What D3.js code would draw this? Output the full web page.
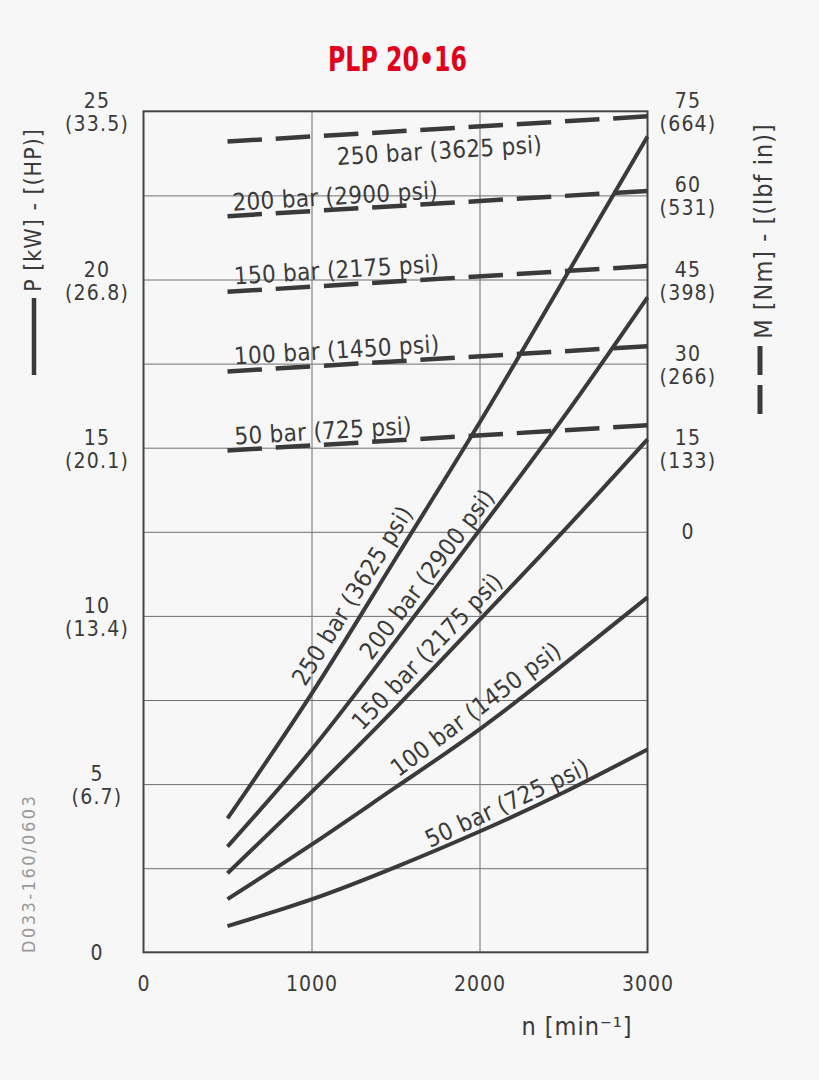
<!DOCTYPE html>
<html>
<head>
<meta charset="utf-8">
<script src="https://cdn.jsdelivr.net/npm/d3@7"></script>
<style>
  body { margin: 0; background: #f7f7f7; }
  svg { display: block; }
</style>
</head>
<body>
<script>
const speeds = [500, 1000, 1500, 2000, 2500, 3000];
const pressures = [50, 100, 150, 200, 250];
const psi = [725, 1450, 2175, 2900, 3625];
const power50 = [0.78, 1.57, 2.53, 3.59, 4.75, 6.03];
const power100 = [1.58, 3.2, 4.9, 6.63, 8.55, 10.55];
const power150 = [2.35, 4.76, 7.26, 9.88, 12.52, 15.25];
const power200 = [3.14, 6.02, 9.25, 12.55, 15.9, 19.47];
const power250 = [3.98, 7.68, 11.7, 15.74, 19.98, 24.25];
const torqueSpeeds = [500, 3000];
const torque50 = [14.5, 19.0];
const torque100 = [28.6, 33.1];
const torque150 = [42.8, 47.4];
const torque200 = [56.3, 60.8];
const torque250 = [69.6, 74.1];
const powerTicks = [0, 5, 10, 15, 20, 25];
const hpTicks = ['', '6.7', '13.4', '20.1', '26.8', '33.5'];
const torqueTicks = [0, 15, 30, 45, 60, 75];
const lbfTicks = ['', '133', '266', '398', '531', '664'];
const speedTicks = [0, 1000, 2000, 3000];

const powers = [power50, power100, power150, power200, power250];
const torques = [torque50, torque100, torque150, torque200, torque250];

// posizione etichette lungo le curve: [giri, scostamento]
const powerLabelPos = [[2200, -6], [2043, -10], [1758, -8], [1760, -7], [1330, -9]];
const torqueLabelPos = [[1074, -5.5], [1155, -6.5], [1155, -7], [1146, -5], [1753, 30]];

const FONT = '"DejaVu Sans Condensed", "DejaVu Sans", sans-serif';
const INK = '#3a3a3a';

const svg = d3.select('body').append('svg')
    .attr('width', 819)
    .attr('height', 1080)
    .style('font-family', FONT)
    .style('font-stretch', 'condensed');

svg.append('rect').attr('width', 819).attr('height', 1080).attr('fill', '#f7f7f7');

const x = d3.scaleLinear().domain([0, 3000]).range([143.5, 647.5]);
const y = d3.scaleLinear().domain([0, 25]).range([952.3, 111.3]);
const yM = d3.scaleLinear().domain([-75, 75]).range([952.3, 111.3]);

//titolo
svg.append('text')
    .attr('x', 397.5)
    .attr('y', 71)
    .attr('text-anchor', 'middle')
    .attr('fill', '#e2001a')
    .style('font-family', '"Liberation Sans Narrow", "DejaVu Sans Condensed", sans-serif')
    .style('font-weight', 'bold')
    .style('font-size', '33px')
    .attr('textLength', 139)
    .attr('lengthAdjust', 'spacingAndGlyphs')
    .text('PLP 20•16');

//griglia
svg.append('g')
    .attr('transform', `translate(${x(0)},0)`)
    .call(d3.axisLeft(y).tickValues(d3.range(2.5, 25, 2.5)).tickSize(-(x(3000) - x(0))).tickFormat(''))
    .call(g => g.select('.domain').remove())
    .call(g => g.selectAll('line').attr('stroke', '#707070').attr('stroke-width', 1));
svg.append('g')
    .attr('transform', `translate(0,${y(0)})`)
    .call(d3.axisBottom(x).tickValues([1000, 2000]).tickSize(-(y(0) - y(25))).tickFormat(''))
    .call(g => g.select('.domain').remove())
    .call(g => g.selectAll('line').attr('stroke', '#707070').attr('stroke-width', 1));

svg.append('rect')
    .attr('x', x(0)).attr('y', y(25))
    .attr('width', x(3000) - x(0)).attr('height', y(0) - y(25))
    .attr('fill', 'none').attr('stroke', '#444').attr('stroke-width', 2);

//etichette asse sinistro
const leftLab = svg.append('g').attr('fill', INK).style('font-size', '21px').style('letter-spacing', '1.2px');
powerTicks.forEach((v, i) => {
    if (hpTicks[i] === '') {
        leftLab.append('text').attr('x', 97).attr('y', y(v) + 7.5).attr('text-anchor', 'middle').text(v);
    } else {
        leftLab.append('text').attr('x', 97).attr('y', y(v) - 3).attr('text-anchor', 'middle').text(v);
        leftLab.append('text').attr('x', 97).attr('y', y(v) + 20).attr('text-anchor', 'middle').text('(' + hpTicks[i] + ')');
    }
});

//etichette asse destro
const rightLab = svg.append('g').attr('fill', INK).style('font-size', '21px').style('letter-spacing', '1.2px');
torqueTicks.forEach((v, i) => {
    if (lbfTicks[i] === '') {
        rightLab.append('text').attr('x', 688).attr('y', yM(v) + 7.5).attr('text-anchor', 'middle').text(v);
    } else {
        rightLab.append('text').attr('x', 688).attr('y', yM(v) - 3).attr('text-anchor', 'middle').text(v);
        rightLab.append('text').attr('x', 688).attr('y', yM(v) + 20).attr('text-anchor', 'middle').text('(' + lbfTicks[i] + ')');
    }
});

//etichette asse x
svg.append('g')
    .attr('transform', `translate(0,${y(0)})`)
    .call(d3.axisBottom(x).tickValues(speedTicks).tickSize(0).tickPadding(24).tickFormat(d3.format('d')))
    .call(g => g.select('.domain').remove())
    .call(g => g.selectAll('text')
        .attr('fill', INK)
        .style('font-family', FONT)
        .style('font-size', '21px')
        .style('letter-spacing', '1px'));

svg.append('text')
    .attr('x', 577)
    .attr('y', 1035)
    .attr('text-anchor', 'middle')
    .attr('fill', INK)
    .style('font-size', '25px')
    .style('letter-spacing', '1px')
    .text('n [min⁻¹]');

//titoli assi verticali
svg.append('text')
    .attr('transform', 'translate(41,210) rotate(-90)')
    .attr('text-anchor', 'middle')
    .attr('fill', INK)
    .style('font-size', '23px')
    .style('letter-spacing', '1px')
    .text('P [kW] - [(HP)]');
svg.append('line')
    .attr('x1', 34).attr('x2', 34).attr('y1', 298).attr('y2', 375)
    .attr('stroke', INK).attr('stroke-width', 4.5);

svg.append('text')
    .attr('transform', 'translate(772,231) rotate(-90)')
    .attr('text-anchor', 'middle')
    .attr('fill', INK)
    .style('font-size', '25px')
    .style('letter-spacing', '1px')
    .text('M [Nm] - [(lbf in)]');
svg.append('line')
    .attr('x1', 760).attr('x2', 760).attr('y1', 346).attr('y2', 414)
    .attr('stroke', INK).attr('stroke-width', 5)
    .attr('stroke-dasharray', '29 10');

svg.append('text')
    .attr('transform', 'translate(35,953) rotate(-90)')
    .attr('fill', '#9a9a9a')
    .style('font-size', '18px')
    .style('letter-spacing', '2.5px')
    .text('D033-160/0603');

//coppia (tratteggio)
const torqueLine = d3.line().x(d => x(d[0])).y(d => yM(d[1]));
svg.append('g').selectAll('path')
    .data(torques)
    .enter()
    .append('path')
    .attr('d', t => torqueLine(torqueSpeeds.map((n, i) => [n, t[i]])))
    .attr('fill', 'none')
    .attr('stroke', INK)
    .attr('stroke-width', 4.5)
    .attr('stroke-dasharray', '34.5 13.8');

//potenza
const powerLine = d3.line().x(d => x(d[0])).y(d => y(d[1])).curve(d3.curveNatural);
svg.append('g').selectAll('path')
    .data(powers)
    .enter()
    .append('path')
    .attr('d', p => powerLine(speeds.map((n, i) => [n, p[i]])))
    .attr('fill', 'none')
    .attr('stroke', INK)
    .attr('stroke-width', 4)
    .attr('stroke-linecap', 'butt');

//testi lungo le curve
function placeLabel(g, f, sy, n, off, txt) {
    const px = x(n), py = sy(f(n));
    const dx = x(n + 80) - x(n - 80), dy = sy(f(n + 80)) - sy(f(n - 80));
    const ang = Math.atan2(dy, dx) * 180 / Math.PI;
    g.append('text')
        .attr('transform', `translate(${px},${py}) rotate(${ang})`)
        .attr('y', off)
        .attr('text-anchor', 'middle')
        .text(txt);
}
const lab = svg.append('g').attr('fill', INK).style('font-size', '24px').style('letter-spacing', '0.3px');
pressures.forEach((p, i) => {
    const txt = `${p} bar (${psi[i]} psi)`;
    const fP = d3.scaleLinear().domain(speeds).range(powers[i]);
    placeLabel(lab, fP, y, powerLabelPos[i][0], powerLabelPos[i][1], txt);
    const fM = d3.scaleLinear().domain(torqueSpeeds).range(torques[i]);
    placeLabel(lab, fM, yM, torqueLabelPos[i][0], torqueLabelPos[i][1], txt);
});
</script>
</body>
</html>
